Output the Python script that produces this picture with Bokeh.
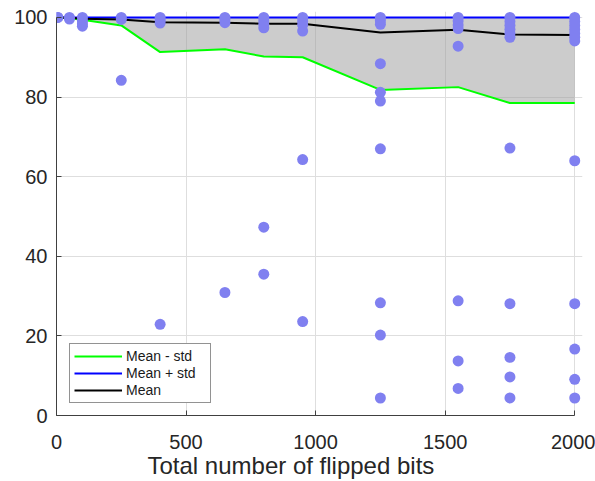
import numpy as np
from bokeh.plotting import figure
from bokeh.models import (Range1d, Legend, LegendItem, ColumnDataSource,
                          FixedTicker, Title)
from bokeh.embed import file_html
from bokeh.resources import INLINE

# ---------------- data ----------------
flipped_bits = [5, 50, 100, 250, 400, 650, 800, 950, 1250, 1550, 1750, 2000]
mean_acc = [100.0, 99.9, 99.7, 99.5, 98.8, 98.7, 98.4, 98.4, 96.2, 96.9, 95.7, 95.6]
mean_minus_std = [100.0, 99.8, 99.4, 98.0, 91.3, 92.0, 90.2, 90.0, 81.8, 82.5, 78.5, 78.5]

trial_acc = [
    [100, 100],
    [100, 99.6],
    [100, 99.2, 98.4, 97.8],
    [100, 99.5, 84.2],
    [100, 99.3, 98.6, 22.9],
    [100, 99.4, 98.7, 30.9],
    [100, 99.2, 98.3, 97.4, 47.3, 35.5],
    [100, 99.1, 98.2, 96.6, 64.3, 23.6],
    [100, 99.2, 98.3, 88.4, 81.2, 79.0, 67.0, 28.3, 20.2, 4.4],
    [100, 99.1, 98.1, 97.2, 92.8, 28.8, 13.7, 6.8],
    [100, 99.0, 98.0, 97.0, 96.0, 95.0, 67.2, 28.1, 14.6, 9.7, 4.4],
    [100, 99.0, 98.0, 97.0, 96.0, 95.0, 94.1, 64.0, 28.1, 16.7, 9.1, 4.4],
]

x_ticks = [0, 500, 1000, 1500, 2000]
y_ticks = [0, 20, 40, 60, 80, 100]
x_label = "Total number of flipped bits"
legend_labels = ["Mean - std", "Mean + std", "Mean"]

# derived
mean_arr = np.array(mean_acc)
std_arr = mean_arr - np.array(mean_minus_std)
mean_plus_std = np.minimum(mean_arr + std_arr, 100.0)

pt_x = [x for x, vals in zip(flipped_bits, trial_acc) for _ in vals]
pt_y = [v for vals in trial_acc for v in vals]

FONT = "Liberation Sans"

p = figure(width=595, height=481, output_backend="svg", toolbar_location=None,
           x_range=Range1d(0, 2030), y_range=Range1d(0, 101.5),
           min_border_left=56, min_border_right=13, min_border_top=11,
           min_border_bottom=66)
p.outline_line_color = None
p.background_fill_color = "white"
p.border_fill_color = "white"

src = ColumnDataSource(dict(x=flipped_bits, mean=mean_arr, lo=mean_minus_std,
                            hi=mean_plus_std))
p.varea(x="x", y1="lo", y2="hi", source=src, fill_color="#999999", fill_alpha=0.5)
r_lo = p.line("x", "lo", source=src, line_color="#00ff00", line_width=2)
r_hi = p.line("x", "hi", source=src, line_color="#0000ff", line_width=2)
r_mean = p.line("x", "mean", source=src, line_color="black", line_width=2)
p.scatter(pt_x, pt_y, size=11, fill_color="#8080f0", line_color=None)

p.xaxis.ticker = FixedTicker(ticks=x_ticks)
p.yaxis.ticker = FixedTicker(ticks=y_ticks)
p.xgrid.ticker = FixedTicker(ticks=x_ticks)
p.ygrid.ticker = FixedTicker(ticks=y_ticks)
p.xaxis.bounds = (0, 2000)
p.yaxis.bounds = (0, 100)
for ax in (p.xaxis, p.yaxis):
    ax.major_tick_in = 5
    ax.major_tick_out = 0
    ax.minor_tick_line_color = None
    ax.axis_line_color = "#404040"
    ax.major_tick_line_color = "#404040"
    ax.major_label_text_font = FONT
    ax.major_label_text_font_size = "20px"
    ax.major_label_text_color = "#262626"
p.xaxis.major_label_standoff = 19
p.yaxis.major_label_standoff = 9
for g in (p.xgrid, p.ygrid):
    g.grid_line_color = "#dedede"
    g.grid_line_width = 1

legend = Legend(items=[LegendItem(label=legend_labels[0], renderers=[r_lo]),
                       LegendItem(label=legend_labels[1], renderers=[r_hi]),
                       LegendItem(label=legend_labels[2], renderers=[r_mean])],
                location=(13, 12), orientation="vertical", padding=4, spacing=1,
                margin=0, glyph_width=48, glyph_height=16, label_height=16,
                label_width=80, label_standoff=4, label_text_font=FONT,
                label_text_font_size="14px", label_text_color="#1a1a1a",
                border_line_color="#262626", border_line_width=1,
                background_fill_color="white", background_fill_alpha=1)
p.add_layout(legend)

xt = Title(text=x_label, align="left", offset=91, vertical_align="top",
           standoff=0, text_font=FONT, text_font_size="24px",
           text_font_style="normal", text_color="#262626")
p.add_layout(xt, "below")

open("out.html", "w").write(file_html(p, INLINE))
